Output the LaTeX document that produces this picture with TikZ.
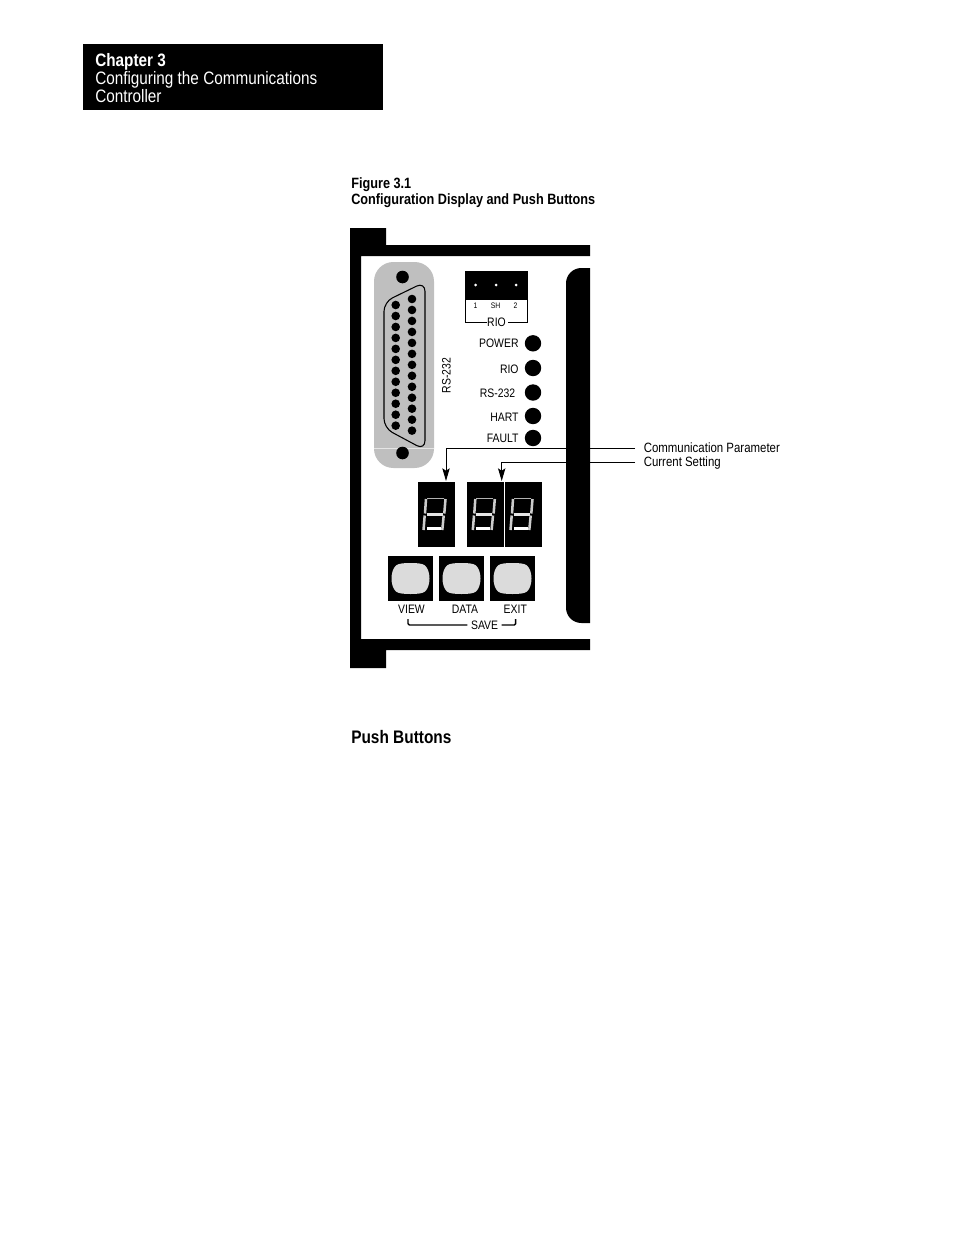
\documentclass[tikz,border=0pt]{standalone}
\usepackage{xcolor}
\usepackage{fontspec}
\usepackage{tikz}
\usetikzlibrary{arrows.meta}
\setmainfont[FakeStretch=0.85]{Liberation Sans}
\definecolor{plategray}{gray}{0.75}
\definecolor{btngray}{gray}{0.86}
\tikzset{
  label/.style={inner sep=0pt, font=\fontsize{9.2}{11}\selectfont},
  longlabel/.style={inner sep=0pt, anchor=west, font=\fontsize{10.1}{12}\selectfont},
  tinylabel/.style={inner sep=0pt, font=\fontsize{6}{7}\selectfont},
  head/.style={inner sep=0pt, anchor=west, text=white, font=\fontsize{13.5}{16}\selectfont},
  caption/.style={inner sep=0pt, anchor=west, font=\fontsize{11.2}{13}\bfseries\selectfont},
  callout/.style={-{Stealth[length=9.5pt,width=5.5pt,inset=1.8pt]}, line width=0.75pt}
}
\begin{document}
\begin{tikzpicture}[x=0.75pt,y=-0.75pt]
    \useasboundingbox (0,0) rectangle (954,1235);

    % Chapter banner
    \fill[black] (83,44) rectangle (383,110);
    \node[head] (chapter) at (95,61.5) {\bfseries Chapter 3};
    \node[head] (chaptertitle) at (95,79.5) {Configuring the Communications};
    \node[head] (chaptertitlb) at (95,96.5) {Controller};

    % Figure caption
    \node[caption] (figno) at (351,185) {Figure 3.1};
    \node[caption] (figtitle) at (351,201) {Configuration Display and Push Buttons};

    % Module frame
    \fill[black] (350,228) -- (386,228) -- (386,245) -- (590,245) -- (590,256)
        -- (361,256) -- (361,639) -- (590,639) -- (590,650) -- (386,650)
        -- (386,668) -- (350,668) -- cycle;
    \fill[black] (590,268) {[rounded corners=11.5pt] -- (566,268) -- (566,623)} -- (590,623) -- cycle;

    % RS-232 connector plate
    \fill[plategray, rounded corners=14.5pt] (374,262) rectangle (434,468);
    \draw[plategray!40!white, line width=0.3pt] (374,448) -- (434,448);
    \fill[black] (402.5,277) circle (6.3);
    \fill[black] (402.5,453) circle (6.3);
    \draw[black, line width=0.8pt, rounded corners=7pt] (384,302) -- (425,282)
        -- (425,450) -- (384,428) -- cycle;

    % Connector pins
    \foreach \i in {0,...,11} {
        \fill[black] (395.7,305+\i*10.97) circle (4.3);
    }
    \foreach \i in {0,...,12} {
        \fill[black] (412,299+\i*10.97) circle (4.3);
    }
    \node[label, rotate=90] (rslabel) at (446.5,375.5) {RS-232};

    % RIO terminal block
    \draw[black, line width=0.7pt] (487,322.7) -- (465,322.7) -- (465,271) -- (527,271) -- (527,322.7) -- (508,322.7);
    \fill[black] (465,271) rectangle (527,300);
    \foreach \x in {475.7,496,516} {
        \fill[white] (\x,285) circle (1.5);
    }
    \node[tinylabel] (rioone) at (475.5,306) {1};
    \node[tinylabel] (riosh) at (495.5,306) {SH};
    \node[tinylabel] (riotwo) at (515.5,306) {2};
    \node[label] (riotitle) at (496.5,322) {RIO};

    % Status lights
    \fill[black] (533,343.3) circle (8.2);
    \fill[black] (533,368) circle (8.2);
    \fill[black] (533,392.5) circle (8.2);
    \fill[black] (533,416) circle (8.2);
    \fill[black] (533,438) circle (8.2);
    \node[label, anchor=east] (power) at (518.8,343) {POWER};
    \node[label, anchor=east] (rio) at (518.8,369) {RIO};
    \node[label, anchor=east] (rstwo) at (515.5,393) {RS-232};
    \node[label, anchor=east] (hart) at (518.8,417.5) {HART};
    \node[label, anchor=east] (fault) at (518.8,438.5) {FAULT};

    % Displays
    \fill[black] (418,482) rectangle (455,546.7);
    \fill[black] (467,482) rectangle (542,546.7);
    \draw[white, line width=0.6pt] (504.7,482) -- (504.7,546.7);

    % Seven segment digits
    \foreach \dx in {0,49.3,87} {
        \begin{scope}[shift={(\dx,0)}]
            \draw[gray!60, line width=0.9pt] (427,498.5) -- (444,498.5);
            \draw[white!80!black, line width=1.9pt] (426,499) -- (425,513.5);
            \draw[white!80!black, line width=1.9pt] (424.7,515.5) -- (423.5,530);
            \draw[white!80!black, line width=1.9pt] (445.5,499) -- (444.3,513.5);
            \draw[white!80!black, line width=1.9pt] (443.7,515.5) -- (442.3,530);
            \draw[white!90!black, line width=1.6pt] (427,514.5) -- (443,514.5);
            \draw[white, line width=2.4pt] (427,528.5) -- (441,528.5);
        \end{scope}
    }

    % Callouts to the displays
    \coordinate (paramstart) at (635,448);
    \coordinate (paramtip) at (446,481);
    \coordinate (settingstart) at (635,462.5);
    \coordinate (settingtip) at (501.7,481);
    \draw[callout] (paramstart) -| (paramtip);
    \draw[callout] (settingstart) -| (settingtip);
    \node[longlabel] (paramlabel) at (643.5,447.5) {Communication Parameter};
    \node[longlabel] (settinglabel) at (643.5,463) {Current Setting};

    % Push buttons
    \foreach \x in {388,439,490} {
        \fill[black] (\x,556) rectangle (\x+45,601);
        \fill[btngray, shift={(\x+22.5,578.5)}] (0,-15.5) .. controls (7,-15.5) and (12,-15) .. (14.5,-13)
            .. controls (17.5,-10.5) and (19,-5) .. (19,0)
            .. controls (19,5) and (17.5,10.5) .. (14.5,13)
            .. controls (12,15) and (7,15.5) .. (0,15.5)
            .. controls (-7,15.5) and (-12,15) .. (-14.5,13)
            .. controls (-17.5,10.5) and (-19,5) .. (-19,0)
            .. controls (-19,-5) and (-17.5,-10.5) .. (-14.5,-13)
            .. controls (-12,-15) and (-7,-15.5) .. (0,-15.5) -- cycle;
    }
    \node[label] (view) at (411.5,609.5) {VIEW};
    \node[label] (data) at (465,609.5) {DATA};
    \node[label] (exit) at (515.3,609.5) {EXIT};
    \node[label, inner xsep=2.5pt] (save) at (484.6,625) {SAVE};
    \draw[black, line width=1.1pt, rounded corners=1pt] (408,619) |- (save.west);
    \draw[black, line width=1.1pt, rounded corners=1pt] (515.7,619) |- (save.east);

    % Section heading
    \node[inner sep=0pt, anchor=west, font=\fontsize{13.6}{16}\bfseries\selectfont] (section) at (351,737) {Push Buttons};
\end{tikzpicture}
\end{document}
